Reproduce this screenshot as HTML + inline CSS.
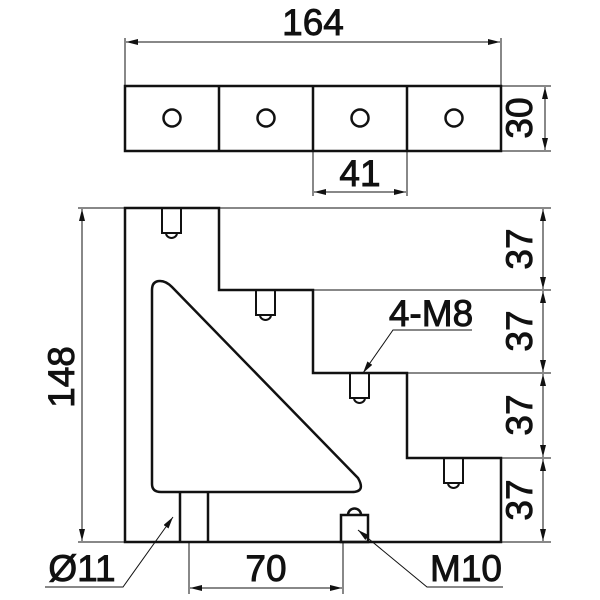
<!DOCTYPE html>
<html><head><meta charset="utf-8"><style>
html,body{margin:0;padding:0;background:#fff;}
svg{display:block;}
text{font-family:"Liberation Sans",sans-serif;font-size:37px;fill:#111;stroke:#111;stroke-width:0.9;}
</style></head><body>
<svg width="600" height="600" viewBox="0 0 600 600">
<defs>
<marker id="a" viewBox="0 0 12 6" refX="12" refY="3" markerWidth="12" markerHeight="6" orient="auto-start-reverse" markerUnits="userSpaceOnUse"><path d="M0,0L12,3L0,6z" fill="#111"/></marker>
</defs>
<g stroke="#111" stroke-width="1" fill="none">
<line x1="125" y1="38" x2="125" y2="86"/><line x1="501" y1="38" x2="501" y2="86"/>
<line x1="126" y1="42" x2="500" y2="42" marker-start="url(#a)" marker-end="url(#a)"/>
<line x1="313" y1="151" x2="313" y2="196"/><line x1="407" y1="151" x2="407" y2="196"/>
<line x1="314" y1="192" x2="406" y2="192" marker-start="url(#a)" marker-end="url(#a)"/>
<line x1="501" y1="86" x2="551" y2="86"/><line x1="501" y1="151" x2="551" y2="151"/>
<line x1="545" y1="87" x2="545" y2="150" marker-start="url(#a)" marker-end="url(#a)"/>
<line x1="78" y1="208" x2="125" y2="208"/><line x1="78" y1="542" x2="125" y2="542"/>
<line x1="82" y1="209" x2="82" y2="541" marker-start="url(#a)" marker-end="url(#a)"/>
<line x1="219" y1="208" x2="551" y2="208"/>
<line x1="313" y1="290" x2="551" y2="290"/>
<line x1="407" y1="373" x2="551" y2="373"/>
<line x1="501" y1="458" x2="551" y2="458"/>
<line x1="501" y1="542" x2="551" y2="542"/>
<line x1="543" y1="209" x2="543" y2="289" marker-start="url(#a)" marker-end="url(#a)"/>
<line x1="543" y1="291" x2="543" y2="372" marker-start="url(#a)" marker-end="url(#a)"/>
<line x1="543" y1="374" x2="543" y2="457" marker-start="url(#a)" marker-end="url(#a)"/>
<line x1="543" y1="459" x2="543" y2="541" marker-start="url(#a)" marker-end="url(#a)"/>
<line x1="189" y1="542" x2="189" y2="594"/><line x1="343" y1="542" x2="343" y2="594"/>
<line x1="190" y1="588" x2="342" y2="588" marker-start="url(#a)" marker-end="url(#a)"/>
<polyline points="45,587 123,587 173,517" marker-end="url(#a)"/>
<polyline points="503,587 427,587 358,530" marker-end="url(#a)"/>
<polyline points="472,330 393,330 363,373" marker-end="url(#a)"/>
</g>
<g stroke="#111" stroke-width="2.5" fill="none">
<rect x="125" y="86" width="376" height="65"/>
<line x1="219" y1="86" x2="219" y2="151"/><line x1="313" y1="86" x2="313" y2="151"/><line x1="407" y1="86" x2="407" y2="151"/>
<circle cx="172" cy="118" r="8.5"/><circle cx="266" cy="118" r="8.5"/><circle cx="360" cy="118" r="8.5"/><circle cx="454" cy="118" r="8.5"/>
<polygon points="125,208 219,208 219,290 313,290 313,373 407,373 407,458 501,458 501,542 125,542"/>
<path d="M160,281 Q152,281 152,290 L152,484 Q152,492 161,492 L352,492 Q366,492 358,478 L172,287 Q166,281 160,281 Z"/>
<line x1="180" y1="492" x2="180" y2="542"/><line x1="208" y1="492" x2="208" y2="542"/>
<rect x="341" y="515" width="27" height="27"/>
<path d="M348,515 A6,6 0 0 1 361,515"/>
</g>
<g stroke="#111" stroke-width="2" fill="none">
<path d="M162,208 V233 H181 V208"/><path d="M166,233 A5.5,5 0 0 0 177,233"/>
<path d="M256,290 V315 H275 V290"/><path d="M260,315 A5.5,5 0 0 0 271,315"/>
<path d="M350,373 V398 H369 V373"/><path d="M354,398 A5.5,5 0 0 0 365,398"/>
<path d="M444,458 V483 H463 V458"/><path d="M448,483 A5.5,5 0 0 0 459,483"/>
</g>
<text x="313" y="35" text-anchor="middle">164</text>
<text x="360" y="186" text-anchor="middle">41</text>
<text transform="translate(532,118) rotate(-90)" text-anchor="middle">30</text>
<text transform="translate(74,377) rotate(-90)" text-anchor="middle">148</text>
<text transform="translate(532,249) rotate(-90)" text-anchor="middle">37</text>
<text transform="translate(532,331) rotate(-90)" text-anchor="middle">37</text>
<text transform="translate(532,415) rotate(-90)" text-anchor="middle">37</text>
<text transform="translate(532,500) rotate(-90)" text-anchor="middle">37</text>
<text x="431" y="326" text-anchor="middle">4-M8</text>
<text x="266" y="581" text-anchor="middle">70</text>
<text x="82" y="581" text-anchor="middle">Ø11</text>
<text x="466" y="581" text-anchor="middle">M10</text>
</svg>
</body></html>
